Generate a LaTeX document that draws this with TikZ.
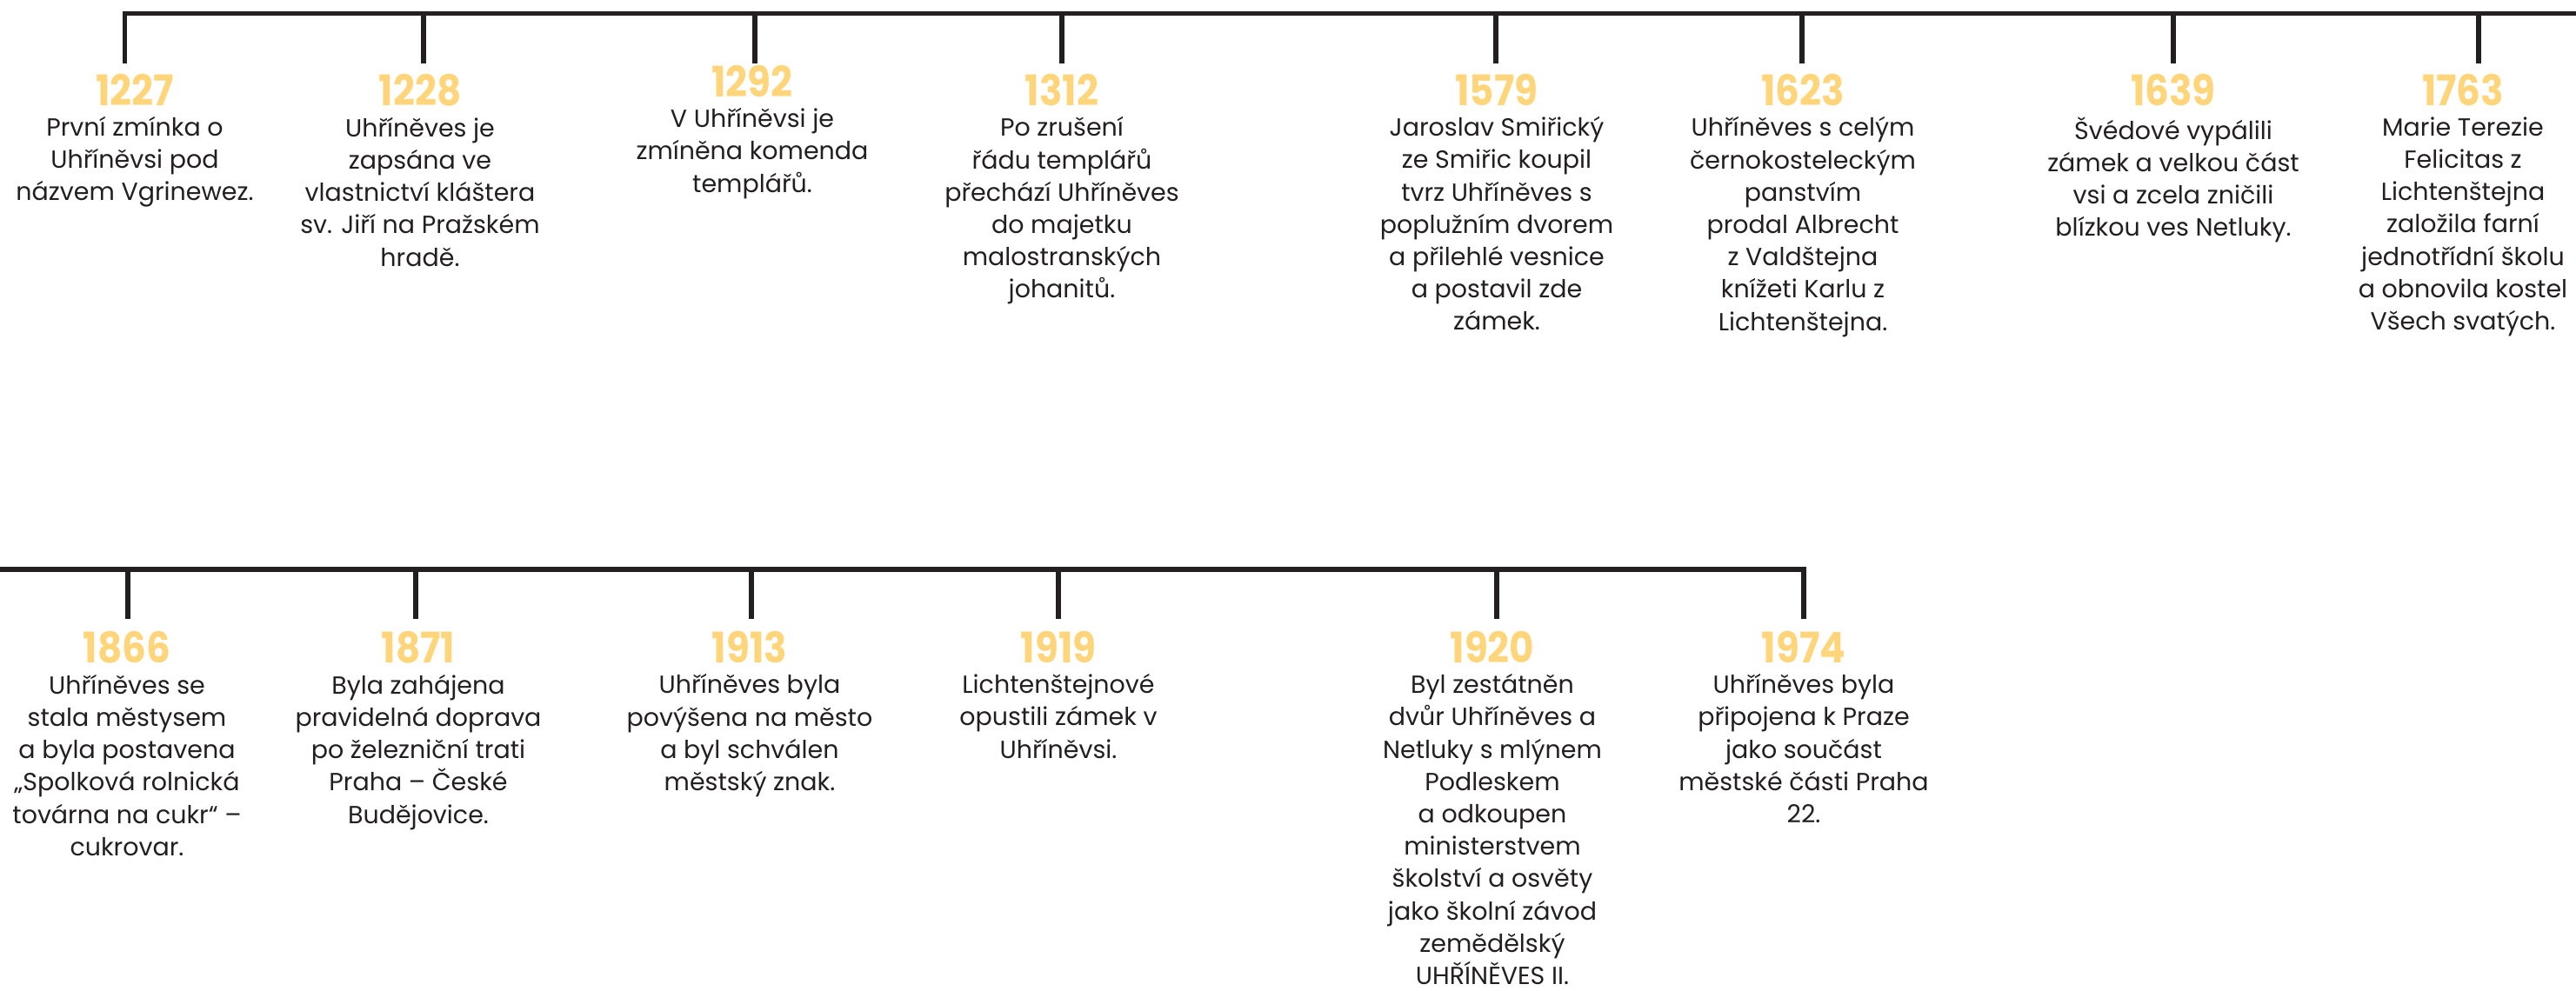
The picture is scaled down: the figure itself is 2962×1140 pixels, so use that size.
\documentclass[tikz,border=0pt]{standalone}
\usepackage{fontspec}
\setmainfont{Poppins}
\newfontfamily\yearfont{Poppins}[FakeStretch=0.9]
\usetikzlibrary{positioning}
\definecolor{barcol}{RGB}{35,31,32}
\definecolor{yearcol}{RGB}{254,213,122}

\begin{document}
\begin{tikzpicture}[x=0.01cm,y=-0.01cm,
  bar/.style={draw=barcol,line width=1.45pt,line join=miter},
  year/.style={anchor=base,inner sep=0pt,text=yearcol,font=\yearfont\bfseries\fontsize{13.8}{14}\selectfont},
  event/.style={below=3.1pt of #1,inner sep=0pt,align=center,text=barcol,
    font=\fontsize{8.1}{10.58}\selectfont,execute at begin node=\strut}]
	\useasboundingbox (0,0) rectangle (2962,1140);

	% upper time line
	\coordinate (ubar) at (2962,15.5);
	\foreach \x [count=\i] in {143.5,487,868,1221,1720,2072,2499,2850} {
		\coordinate (up\i) at (\x,15.5);
		\coordinate (dn\i) at (\x,73);
	}
	\draw[bar] (dn1) -- (up1) -- (ubar);
	\foreach \i in {2,...,8}
		\draw[bar] (up\i) -- (dn\i);

	\node[year] (y1) at (155,122) {1227};
	\node[event=y1] (e1) {První zmínka o\\Uhříněvsi pod\\názvem Vgrinewez.};
	\node[year] (y2) at (483,122) {1228};
	\node[event=y2] (e2) {Uhříněves je\\zapsána ve\\vlastnictví kláštera\\sv. Jiří na Pražském\\hradě.};
	\node[year] (y3) at (865,112) {1292};
	\node[event=y3] (e3) {V Uhříněvsi je\\zmíněna komenda\\templářů.};
	\node[year] (y4) at (1221,122) {1312};
	\node[event=y4] (e4) {Po zrušení\\řádu templářů\\přechází Uhříněves\\do majetku\\malostranských\\johanitů.};
	\node[year] (y5) at (1721,122) {1579};
	\node[event=y5] (e5) {Jaroslav Smiřický\\ze Smiřic koupil\\tvrz Uhříněves s\\poplužním dvorem\\a přilehlé vesnice\\a postavil zde\\zámek.};
	\node[year] (y6) at (2073,122) {1623};
	\node[event=y6] (e6) {Uhříněves s celým\\černokosteleckým\\panstvím\\prodal Albrecht\\z Valdštejna\\knížeti Karlu z\\Lichtenštejna.};
	\node[year] (y7) at (2499,122) {1639};
	\node[event=y7] (e7) {Švédové vypálili\\zámek a velkou část\\vsi a zcela zničili\\blízkou ves Netluky.};
	\node[year] (y8) at (2832,122) {1763};
	\node[event=y8] (e8) {Marie Terezie\\Felicitas z\\Lichtenštejna\\založila farní\\jednotřídní školu\\a obnovila kostel\\Všech svatých.};

	% lower time line
	\coordinate (lbar) at (0,655);
	\foreach \x [count=\i] in {147,478,864,1217,1721,2074} {
		\coordinate (lup\i) at (\x,655);
		\coordinate (ldn\i) at (\x,712);
	}
	\draw[bar] (lbar) -- (lup6) -- (ldn6);
	\foreach \i in {1,...,5}
		\draw[bar] (lup\i) -- (ldn\i);

	\node[year] (z1) at (146,763) {1866};
	\node[event=z1] (f1) {Uhříněves se\\stala městysem\\a byla postavena\\„Spolková rolnická\\továrna na cukr“ –\\cukrovar.};
	\node[year] (z2) at (481,763) {1871};
	\node[event=z2] (f2) {Byla zahájena\\pravidelná doprava\\po železniční trati\\Praha – České\\Budějovice.};
	\node[year] (z3) at (862,763) {1913};
	\node[event=z3] (f3) {Uhříněves byla\\povýšena na město\\a byl schválen\\městský znak.};
	\node[year] (z4) at (1217,763) {1919};
	\node[event=z4] (f4) {Lichtenštejnové\\opustili zámek v\\Uhříněvsi.};
	\node[year] (z5) at (1716,763) {1920};
	\node[event=z5] (f5) {Byl zestátněn\\dvůr Uhříněves a\\Netluky s mlýnem\\Podleskem\\a odkoupen\\ministerstvem\\školství a osvěty\\jako školní závod\\zemědělský\\UHŘÍNĚVES II.};
	\node[year] (z6) at (2074,763) {1974};
	\node[event=z6] (f6) {Uhříněves byla\\připojena k Praze\\jako součást\\městské části Praha\\22.};
\end{tikzpicture}
\end{document}
